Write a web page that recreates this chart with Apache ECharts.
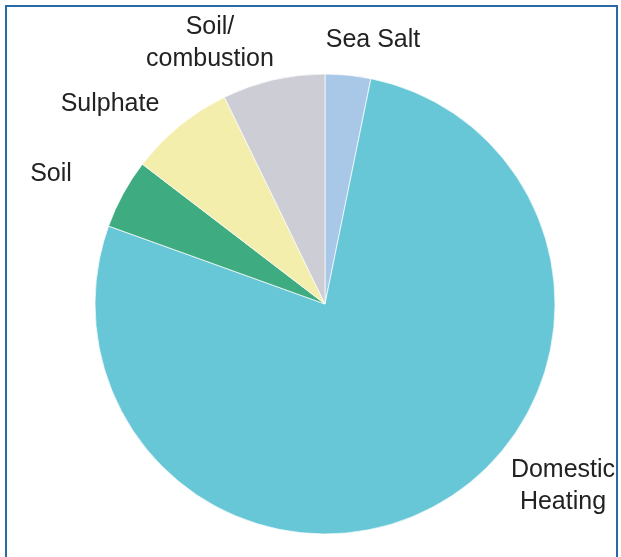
<!DOCTYPE html>
<html>
<head>
<meta charset="utf-8">
<style>
  html, body { margin: 0; padding: 0; background: #ffffff; }
  #chart { width: 621px; height: 557px; }
</style>
<script src="https://cdn.jsdelivr.net/npm/echarts@6/dist/echarts.min.js"></script>
</head>
<body>
<div id="chart"></div>
<script>
// Source apportionment shares (%), clockwise from 12 o'clock
const categories = ['Sea Salt', 'Domestic Heating', 'Soil', 'Sulphate', 'Soil/combustion'];
const shares = [3.2, 77.3, 4.9, 7.4, 7.2];
const labelTexts = ['Sea Salt', 'Domestic\nHeating', 'Soil', 'Sulphate', 'Soil/\ncombustion'];

const sliceColors = ['#a9c7e7', '#67c7d6', '#3eac80', '#f3eeab', '#cdcdd6'];
// label anchor points (px) for each slice
const labelSpots = [[373, 40], [563, 486], [51, 174], [110, 104], [210, 43]];

const chart = echarts.init(document.getElementById('chart'), null, { renderer: 'canvas' });

chart.setOption({
  animation: false,
  backgroundColor: '#ffffff',
  graphic: [{
    type: 'rect',
    shape: { x: 6, y: 6, width: 611, height: 570 },
    style: { fill: 'none', stroke: '#2a68a6', lineWidth: 2 },
    silent: true
  }],
  series: [{
    type: 'pie',
    center: [325, 304],
    radius: 230,
    startAngle: 90,
    clockwise: true,
    data: categories.map((name, i) => ({
      name: name,
      value: shares[i],
      itemStyle: { color: sliceColors[i] },
      label: { formatter: labelTexts[i] }
    })),
    itemStyle: { borderColor: 'rgba(255,255,255,0.7)', borderWidth: 1 },
    label: {
      show: true,
      color: '#222222',
      fontFamily: '"Liberation Sans", Arial, sans-serif',
      fontSize: 25,
      lineHeight: 32,
      align: 'center'
    },
    labelLine: { show: false },
    labelLayout: function (params) {
      const p = labelSpots[params.dataIndex];
      return { x: p[0], y: p[1], align: 'center', verticalAlign: 'middle' };
    },
    emphasis: { disabled: true }
  }]
});
</script>
</body>
</html>
